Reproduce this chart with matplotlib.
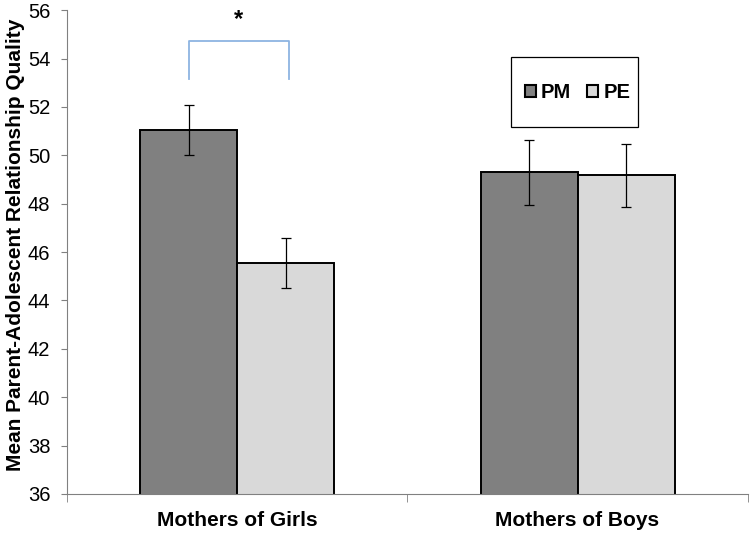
import matplotlib
matplotlib.use("Agg")
import matplotlib.pyplot as plt
from matplotlib.patches import Rectangle
import numpy as np

categories = ["Mothers of Girls", "Mothers of Boys"]
series = ["PM", "PE"]
pm_values = [51.05, 49.3]
pe_values = [45.55, 49.18]
pm_err = [1.02, 1.35]
pe_err = [1.02, 1.3]
yticks = [36, 38, 40, 42, 44, 46, 48, 50, 52, 54, 56]

plt.rcParams['font.family'] = ['Liberation Sans', 'DejaVu Sans']

fig = plt.figure(figsize=(7.5, 5.33), dpi=100)
ax = fig.add_axes([0.0893, 0.0732, 0.9077, 0.9078])

x = np.arange(len(categories))
w = 0.285
colors = ["#808080", "#d9d9d9"]
ax.bar(x - w/2, pm_values, w, color=colors[0], edgecolor="black", linewidth=1.4, label=series[0], zorder=2)
ax.bar(x + w/2, pe_values, w, color=colors[1], edgecolor="black", linewidth=1.4, label=series[1], zorder=2)
ax.errorbar(x - w/2, pm_values, yerr=pm_err, fmt="none", ecolor="black", elinewidth=0.9, capsize=3.8, capthick=0.9, zorder=3)
ax.errorbar(x + w/2, pe_values, yerr=pe_err, fmt="none", ecolor="black", elinewidth=0.9, capsize=3.8, capthick=0.9, zorder=3)

ax.set_ylim(36, 56)
ax.set_xlim(-0.5, 1.5)
ax.set_yticks(yticks)
ax.set_yticklabels([str(t) for t in yticks], fontsize=14.5)
ax.set_xticks(x)
ax.set_xticklabels(categories, fontsize=15, fontweight="bold")
ax.tick_params(axis="x", length=0, pad=12)
ax.set_xticks([-0.5, 0.5, 1.5], minor=True)
ax.tick_params(axis="x", which="minor", length=6, direction="out", color="#808080")
ax.tick_params(axis="y", length=4, direction="out", color="#808080", pad=8)
for s in ["top", "right"]:
    ax.spines[s].set_visible(False)
ax.spines["left"].set_color("#808080")
ax.spines["bottom"].set_color("#808080")
ax.set_ylabel("Mean Parent-Adolescent Relationship Quality", fontsize=15, fontweight="bold", va="center")
ax.yaxis.set_label_coords(-0.076, 0.516)

# significance bracket
bx0, bx1 = -0.5 + (189 - 67) / 340.5, -0.5 + (289 - 67) / 340.5
ax.plot([bx0, bx0, bx1, bx1], [53.15, 54.72, 54.72, 53.15], color="#8db4e2", linewidth=1.3, zorder=4)
ax.text((bx0 + bx1) / 2, 55.6, "*", ha="center", va="center", fontsize=17, fontweight="bold")

# legend box
ax.add_patch(Rectangle((0.652, 0.758), 0.1865, 0.145, transform=ax.transAxes, facecolor="white",
                       edgecolor="black", linewidth=0.9, zorder=5))
leg = ax.legend(loc="center", bbox_to_anchor=(0.75, 0.83), ncol=2, frameon=False,
                handlelength=0.55, handleheight=0.55, handletextpad=0.25, columnspacing=0.8,
                borderpad=0, borderaxespad=0, prop={"weight": "bold", "size": 14.5})
leg.set_zorder(6)
for h in leg.legend_handles:
    h.set_linewidth(1.5)

fig.savefig("out.png", dpi=100)
